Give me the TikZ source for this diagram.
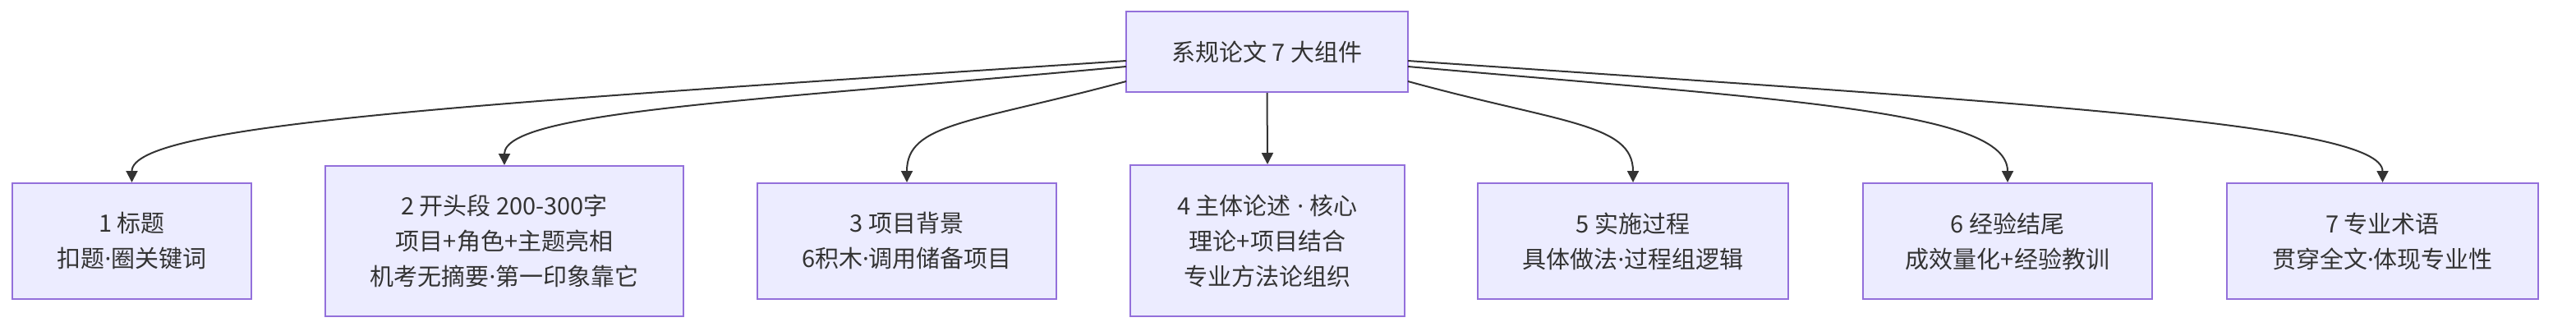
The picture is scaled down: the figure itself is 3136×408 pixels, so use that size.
\documentclass[tikz,border=0pt]{standalone}
\usepackage{fontspec}
\setmainfont{Noto Sans CJK SC}
\newfontfamily\latinfont{Noto Sans}
\newcommand\mydot{{\latinfont ·}}
\usetikzlibrary{arrows.meta}
\definecolor{nodefill}{HTML}{ECECFF}
\definecolor{nodeline}{HTML}{9370DB}
\definecolor{inktext}{HTML}{333333}
\tikzset{
  boxnode/.style={draw=nodeline, fill=nodefill, line width=1pt, inner sep=0pt,
    align=center, text=inktext, font=\fontsize{14.5pt}{21.5pt}\selectfont},
  conn/.style={draw=inktext, line width=1pt,
    -{Triangle[length=7pt,width=7pt]}}
}
\begin{document}
\begin{tikzpicture}[x=0.5pt,y=-0.5pt]
\useasboundingbox (0,0) rectangle (3136,408);
\node[boxnode, minimum width=171.5pt, minimum height=49pt] (top) at (1542.5,63) {系规论文 7 大组件};
\node[boxnode, minimum width=145.5pt, minimum height=70.5pt] (c1) at (160.5,293.5) {1 标题\\扣题\mydot 圈关键词};
\node[boxnode, minimum width=218pt, minimum height=91.5pt] (c2) at (614,293.5) {2 开头段 200-300字\\项目+角色+主题亮相\\机考无摘要\mydot 第一印象靠它};
\node[boxnode, minimum width=182pt, minimum height=70.5pt] (c3) at (1104,293.5) {3 项目背景\\6积木\mydot 调用储备项目};
\node[boxnode, minimum width=167pt, minimum height=92pt] (c4) at (1543,293) {4 主体论述{\latinfont\ ·\ }核心\\理论+项目结合\\专业方法论组织};
\node[boxnode, minimum width=189pt, minimum height=70.5pt] (c5) at (1988,293.5) {5 实施过程\\具体做法\mydot 过程组逻辑};
\node[boxnode, minimum width=176pt, minimum height=70.5pt] (c6) at (2444,293.5) {6 经验结尾\\成效量化+经验教训};
\node[boxnode, minimum width=189.5pt, minimum height=70.5pt] (c7) at (2900.5,293.5) {7 专业术语\\贯穿全文\mydot 体现专业性};

\coordinate (s1) at (1371,74);
\coordinate (s2) at (1371,81);
\coordinate (s3) at (1371,99);
\coordinate (s5) at (1714,99);
\coordinate (s6) at (1714,81);
\coordinate (s7) at (1714,74);

\draw[conn] (s1) .. controls (600,125) and (160.5,150) .. (c1.north);
\draw[conn] (s2) .. controls (930,122) and (614,135) .. (c2.north);
\draw[conn] (s3) .. controls (1180,150) and (1104,150) .. (c3.north);
\draw[conn] (top.south) -- (c4.north);
\draw[conn] (s5) .. controls (1900,150) and (1988,150) .. (c5.north);
\draw[conn] (s6) .. controls (2180,122) and (2444,135) .. (c6.north);
\draw[conn] (s7) .. controls (2460,125) and (2900.5,150) .. (c7.north);
\end{tikzpicture}
\end{document}
